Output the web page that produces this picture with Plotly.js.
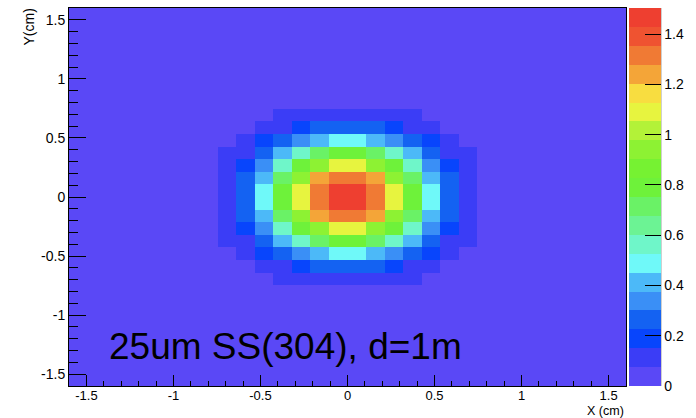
<!DOCTYPE html>
<html>
<head>
<meta charset="utf-8">
<script src="https://cdn.plot.ly/plotly-3.0.1.min.js"></script>
<style>html,body{margin:0;padding:0;background:#fff;}#chart{width:696px;height:418px;}</style>
</head>
<body>
<div id="chart"></div>
<script>
// Bin centers (30 bins from -1.6 to 1.6 cm)
var xCenters = [-1.5467,-1.44,-1.3333,-1.2267,-1.12,-1.0133,-0.9067,-0.8,-0.6933,-0.5867,-0.48,-0.3733,-0.2667,-0.16,-0.0533,0.0533,0.16,0.2667,0.3733,0.48,0.5867,0.6933,0.8,0.9067,1.0133,1.12,1.2267,1.3333,1.44,1.5467];
var yCenters = [-1.5467,-1.44,-1.3333,-1.2267,-1.12,-1.0133,-0.9067,-0.8,-0.6933,-0.5867,-0.48,-0.3733,-0.2667,-0.16,-0.0533,0.0533,0.16,0.2667,0.3733,0.48,0.5867,0.6933,0.8,0.9067,1.0133,1.12,1.2267,1.3333,1.44,1.5467];

// Bin contents, rows from bottom (y=-1.55) to top (y=1.55)
var zRows = [
[0,0,0,0,0,0,0,0,0,0,0,0,0,0,0,0,0,0,0,0,0,0,0,0,0,0,0,0,0,0],
[0,0,0,0,0,0,0,0,0,0,0,0,0,0,0,0,0,0,0,0,0,0,0,0,0,0,0,0,0,0],
[0,0,0,0,0,0,0,0,0,0,0,0,0,0,0,0,0,0,0,0,0,0,0,0,0,0,0,0,0,0],
[0,0,0,0,0,0,0,0,0,0,0,0,0,0,0,0,0,0,0,0,0,0,0,0,0,0,0,0,0,0],
[0,0,0,0,0,0,0,0,0,0,0,0,0,0,0,0,0,0,0,0,0,0,0,0,0,0,0,0,0,0],
[0,0,0,0,0,0,0,0,0,0,0,0,0,0,0,0,0,0,0,0,0,0,0,0,0,0,0,0,0,0],
[0,0,0,0,0,0,0,0,0,0,0,0,0,0,0,0,0,0,0,0,0,0,0,0,0,0,0,0,0,0],
[0,0,0,0,0,0,0,0,0,0,0,0,0,0,0,0,0,0,0,0,0,0,0,0,0,0,0,0,0,0],
[0,0,0,0,0,0,0,0,0,0,0,0.11,0.11,0.11,0.11,0.11,0.11,0.11,0.11,0,0,0,0,0,0,0,0,0,0,0],
[0,0,0,0,0,0,0,0,0,0,0.11,0.11,0.19,0.26,0.26,0.26,0.26,0.19,0.11,0.11,0,0,0,0,0,0,0,0,0,0],
[0,0,0,0,0,0,0,0,0,0.11,0.19,0.26,0.34,0.41,0.49,0.49,0.41,0.34,0.26,0.19,0.11,0,0,0,0,0,0,0,0,0],
[0,0,0,0,0,0,0,0,0.11,0.11,0.26,0.41,0.56,0.71,0.79,0.79,0.71,0.56,0.41,0.26,0.11,0.11,0,0,0,0,0,0,0,0],
[0,0,0,0,0,0,0,0,0.11,0.19,0.34,0.56,0.79,0.94,1.09,1.09,0.94,0.79,0.56,0.34,0.19,0.11,0,0,0,0,0,0,0,0],
[0,0,0,0,0,0,0,0,0.11,0.26,0.41,0.71,0.94,1.24,1.32,1.32,1.24,0.94,0.71,0.41,0.26,0.11,0,0,0,0,0,0,0,0],
[0,0,0,0,0,0,0,0,0.11,0.26,0.49,0.79,1.09,1.32,1.48,1.47,1.32,1.09,0.79,0.49,0.26,0.11,0,0,0,0,0,0,0,0],
[0,0,0,0,0,0,0,0,0.11,0.26,0.49,0.79,1.09,1.32,1.49,1.504,1.32,1.09,0.79,0.49,0.26,0.11,0,0,0,0,0,0,0,0],
[0,0,0,0,0,0,0,0,0.11,0.26,0.41,0.71,0.94,1.24,1.32,1.32,1.24,0.94,0.71,0.41,0.26,0.11,0,0,0,0,0,0,0,0],
[0,0,0,0,0,0,0,0,0.11,0.19,0.34,0.56,0.79,0.94,1.09,1.09,0.94,0.79,0.56,0.34,0.19,0.11,0,0,0,0,0,0,0,0],
[0,0,0,0,0,0,0,0,0.11,0.11,0.26,0.41,0.56,0.71,0.79,0.79,0.71,0.56,0.41,0.26,0.11,0.11,0,0,0,0,0,0,0,0],
[0,0,0,0,0,0,0,0,0,0.11,0.19,0.26,0.34,0.41,0.49,0.49,0.41,0.34,0.26,0.19,0.11,0,0,0,0,0,0,0,0,0],
[0,0,0,0,0,0,0,0,0,0,0.11,0.11,0.19,0.26,0.26,0.26,0.26,0.19,0.11,0.11,0,0,0,0,0,0,0,0,0,0],
[0,0,0,0,0,0,0,0,0,0,0,0.11,0.11,0.11,0.11,0.11,0.11,0.11,0.11,0,0,0,0,0,0,0,0,0,0,0],
[0,0,0,0,0,0,0,0,0,0,0,0,0,0,0,0,0,0,0,0,0,0,0,0,0,0,0,0,0,0],
[0,0,0,0,0,0,0,0,0,0,0,0,0,0,0,0,0,0,0,0,0,0,0,0,0,0,0,0,0,0],
[0,0,0,0,0,0,0,0,0,0,0,0,0,0,0,0,0,0,0,0,0,0,0,0,0,0,0,0,0,0],
[0,0,0,0,0,0,0,0,0,0,0,0,0,0,0,0,0,0,0,0,0,0,0,0,0,0,0,0,0,0],
[0,0,0,0,0,0,0,0,0,0,0,0,0,0,0,0,0,0,0,0,0,0,0,0,0,0,0,0,0,0],
[0,0,0,0,0,0,0,0,0,0,0,0,0,0,0,0,0,0,0,0,0,0,0,0,0,0,0,0,0,0],
[0,0,0,0,0,0,0,0,0,0,0,0,0,0,0,0,0,0,0,0,0,0,0,0,0,0,0,0,0,0],
[0,0,0,0,0,0,0,0,0,0,0,0,0,0,0,0,0,0,0,0,0,0,0,0,0,0,0,0,0,0]
];

// 20-level palette (ROOT "pretty" palette), bottom to top
var paletteColors = ["#5a48f6","#3b3df6","#0845fc","#1462f2","#3a8ff6","#4cb9f8","#6ff9f9","#6ff6c9","#6cf394","#6af266",
                     "#6ef23a","#76f232","#8df233","#b3f238","#e7f43f","#f8dd40","#f4a538","#f07a34","#ef5331","#ee3f30"];
var zMin = 0, zMax = 1.504;

var axisTickVals = [-1.5,-1,-0.5,0,0.5,1,1.5];
var axisTickText = ["-1.5","-1","-0.5","0","0.5","1","1.5"];
var cbTickVals = [0,0.2,0.4,0.6,0.8,1,1.2,1.4];
var cbTickText = ["0","0.2","0.4","0.6","0.8","1","1.2","1.4"];

var labelText = "25um SS(304), d=1m";
var xTitle = "X (cm)";
var yTitle = "Y(cm)";

// build discrete colorscale
var cscale = [];
for (var k = 0; k < paletteColors.length; k++) {
  cscale.push([k / paletteColors.length, paletteColors[k]]);
  cscale.push([(k + 1) / paletteColors.length, paletteColors[k]]);
}

var FONT = "Liberation Sans, Arial, Helvetica, sans-serif";
var W = 696, H = 418, L = 69, R = 70, T = 8, B = 32;
var pw = W - L - R, ph = H - T - B;

var trace = {
  type: "heatmap",
  x: xCenters, y: yCenters, z: zRows,
  zmin: zMin, zmax: zMax, zsmooth: false,
  colorscale: cscale,
  hoverinfo: "skip",
  colorbar: {
    x: 1 + 2.7 / pw, xanchor: "left", xref: "paper",
    y: 0.5, yanchor: "middle", len: 1, lenmode: "fraction",
    thickness: 32, thicknessmode: "pixels",
    xpad: 0, ypad: 0, outlinewidth: 0,
    ticks: "inside", ticklen: 16, tickwidth: 1, tickcolor: "#000",
    tickvals: cbTickVals, ticktext: cbTickText,
    tickfont: {family: FONT, size: 14, color: "#000"},
    ticklabelposition: "outside"
  }
};

var axisCommon = {
  tickvals: axisTickVals, ticktext: axisTickText,
  ticks: "inside", tickwidth: 1, tickcolor: "#000",
  showline: true, linecolor: "#000", linewidth: 1, mirror: true,
  showgrid: false, zeroline: false,
  range: [-1.6, 1.6], fixedrange: true
};

var layout = {
  width: W, height: H,
  margin: {l: L, r: R, t: T, b: B, pad: 0, autoexpand: false},
  paper_bgcolor: "#ffffff",
  plot_bgcolor: paletteColors[0],
  showlegend: false,
  xaxis: Object.assign({}, axisCommon, {
    ticklen: 11,
    ticklabelstandoff: -3,
    tickfont: {family: FONT, size: 13, color: "#000"},
    minor: {ticks: "inside", dtick: 0.1, tick0: 0, ticklen: 5.5, tickwidth: 1, tickcolor: "#000"}
  }),
  yaxis: Object.assign({}, axisCommon, {
    ticklen: 17,
    tickfont: {family: FONT, size: 14, color: "#000"},
    minor: {ticks: "inside", dtick: 0.1, tick0: 0, ticklen: 8.5, tickwidth: 1, tickcolor: "#000"}
  }),
  shapes: [
    {type: "line", xref: "paper", yref: "paper", x0: 1 + 34.7 / pw, x1: 1 + 34.7 / pw, y0: 0, y1: 1,
     line: {color: "#000", width: 1}}
  ],
  annotations: [
    {text: labelText, xref: "paper", yref: "paper", x: (107 - L) / pw, y: (H - B - 346) / ph,
     xanchor: "left", yanchor: "middle", showarrow: false,
     font: {family: FONT, size: 37, color: "#000"}},
    {text: xTitle, xref: "paper", yref: "paper", x: 1, y: (H - B - 410.5) / ph,
     xanchor: "right", yanchor: "middle", showarrow: false,
     font: {family: FONT, size: 12.5, color: "#000"}},
    {text: yTitle, xref: "paper", yref: "paper", x: (28 - L) / pw, y: 1 + 1 / ph,
     xanchor: "center", yanchor: "top", textangle: -90, showarrow: false,
     font: {family: FONT, size: 14, color: "#000"}}
  ]
};

Plotly.newPlot("chart", [trace], layout, {displayModeBar: false, staticPlot: true});
</script>
</body>
</html>
